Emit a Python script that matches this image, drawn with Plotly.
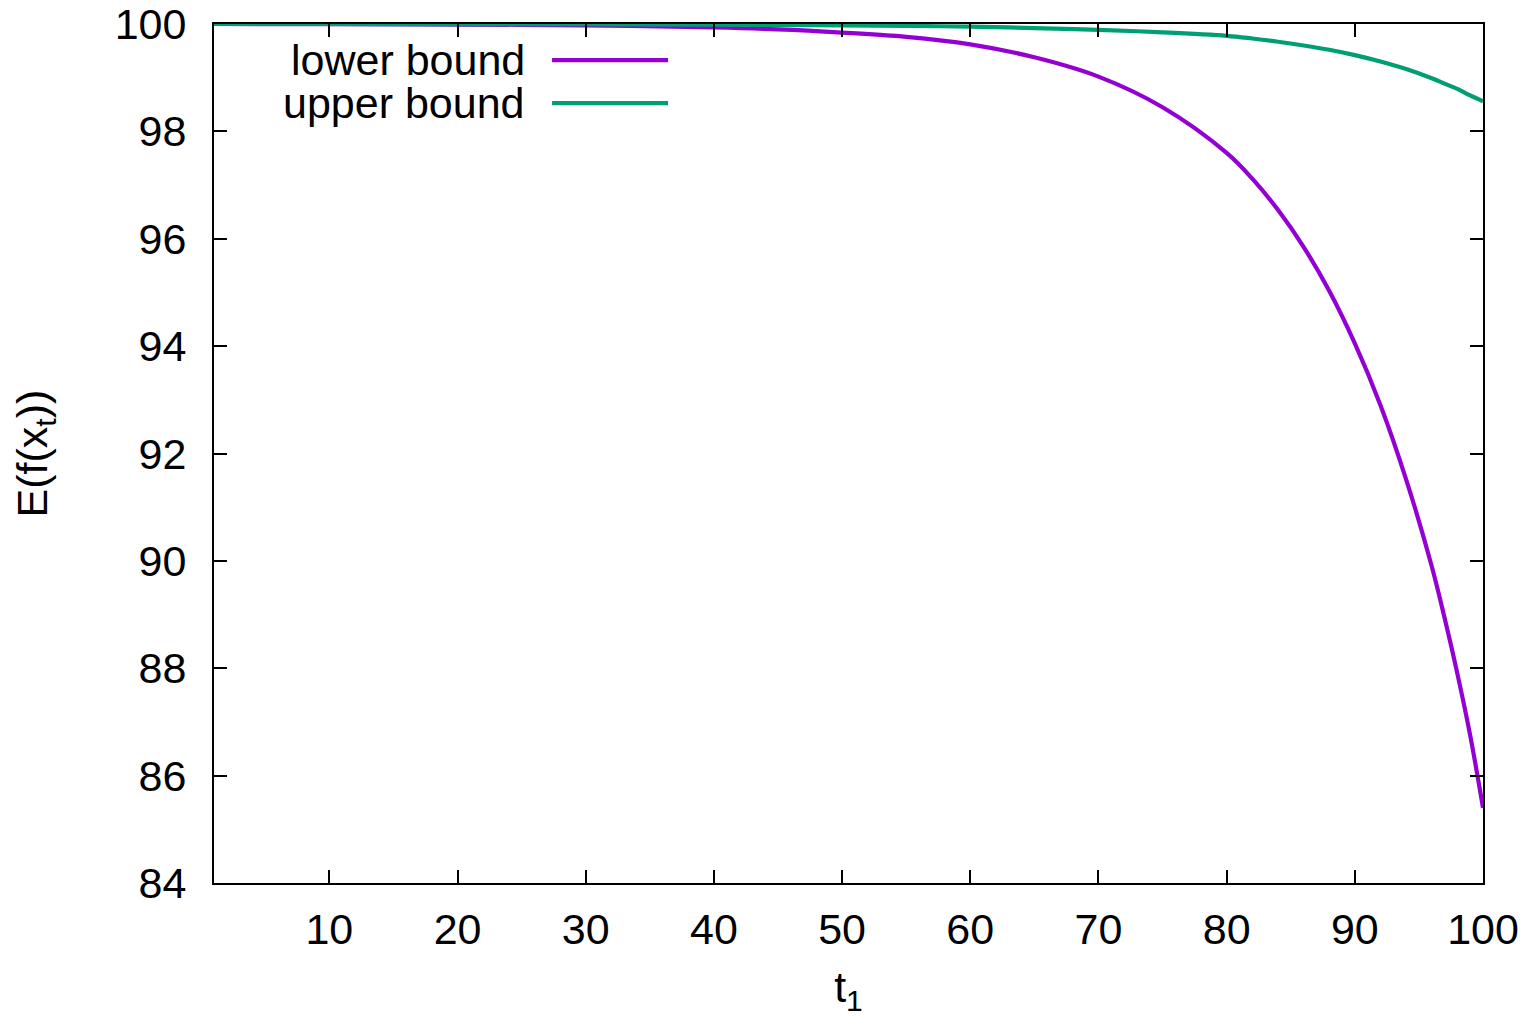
import plotly.graph_objects as go

t1 = [1, 10, 20, 30, 40, 45, 50, 55, 60, 65, 70, 75, 80, 82, 84, 86, 88, 90, 92, 94, 96, 97, 98, 99, 100]
lower_bound = [100.0, 99.998, 99.99, 99.975, 99.935, 99.9, 99.84, 99.76, 99.62, 99.38, 99.02, 98.45, 97.6,
               97.12, 96.54, 95.85, 95.03, 94.05, 92.9, 91.52, 89.9, 88.94, 87.9, 86.75, 85.4]
upper_bound = [100.0, 100.0, 99.998, 99.995, 99.99, 99.983, 99.975, 99.965, 99.95, 99.925, 99.89, 99.845, 99.78,
               99.73, 99.67, 99.6, 99.52, 99.42, 99.3, 99.16, 98.99, 98.89, 98.79, 98.67, 98.56]
x_ticks = [10, 20, 30, 40, 50, 60, 70, 80, 90, 100]
y_ticks = [84, 86, 88, 90, 92, 94, 96, 98, 100]
series_names = ["lower bound", "upper bound"]
colors = ["#9400D3", "#009E73"]

FONT = "Liberation Sans, Arial, Helvetica, sans-serif"
FS = 43

fig = go.Figure()
for name, ys, c in zip(series_names, [lower_bound, upper_bound], colors):
    fig.add_trace(go.Scatter(x=t1, y=ys, mode="lines", name=name,
                             line=dict(color=c, width=4.2, shape="spline", smoothing=1.0),
                             showlegend=False))

axis_common = dict(showline=True, linecolor="black", linewidth=2, mirror="ticks",
                   ticks="inside", ticklen=13, tickwidth=1.5, tickcolor="black",
                   showgrid=False, zeroline=False, automargin=False,
                   ticklabeloverflow="allow",
                   tickfont=dict(family=FONT, size=FS, color="black"))

fig.update_xaxes(range=[1, 100], tickvals=x_ticks, ticktext=[str(v) for v in x_ticks],
                 title=dict(text="t<sub>1</sub>", font=dict(family=FONT, size=FS, color="black"), standoff=25),
                 ticklabelstandoff=7, **axis_common)
fig.update_yaxes(range=[84, 100], tickvals=y_ticks, ticktext=[str(v) for v in y_ticks],
                 title=dict(text="E(f(x<sub>t</sub>))", font=dict(family=FONT, size=FS, color="black"), standoff=80),
                 ticklabelstandoff=17, **axis_common)

# gnuplot-style key: right-aligned text followed by line sample
key_y = [0.958, 0.908]
for name, c, ky in zip(series_names, colors, key_y):
    fig.add_annotation(xref="paper", yref="paper", x=0.247, y=ky, text=name, showarrow=False,
                       xanchor="right", yanchor="middle",
                       font=dict(family=FONT, size=FS, color="black"))
    fig.add_shape(type="line", xref="paper", yref="paper", x0=0.2664, x1=0.3578, y0=ky, y1=ky,
                  line=dict(color=c, width=4.2))

# page body has an 8px margin; figure is sized/margined so the plot lands where the reference has it
fig.update_layout(width=1529, height=1009, plot_bgcolor="white", paper_bgcolor="white",
                  margin=dict(l=206, r=54, t=16, b=134))

fig.write_html("out.html")
